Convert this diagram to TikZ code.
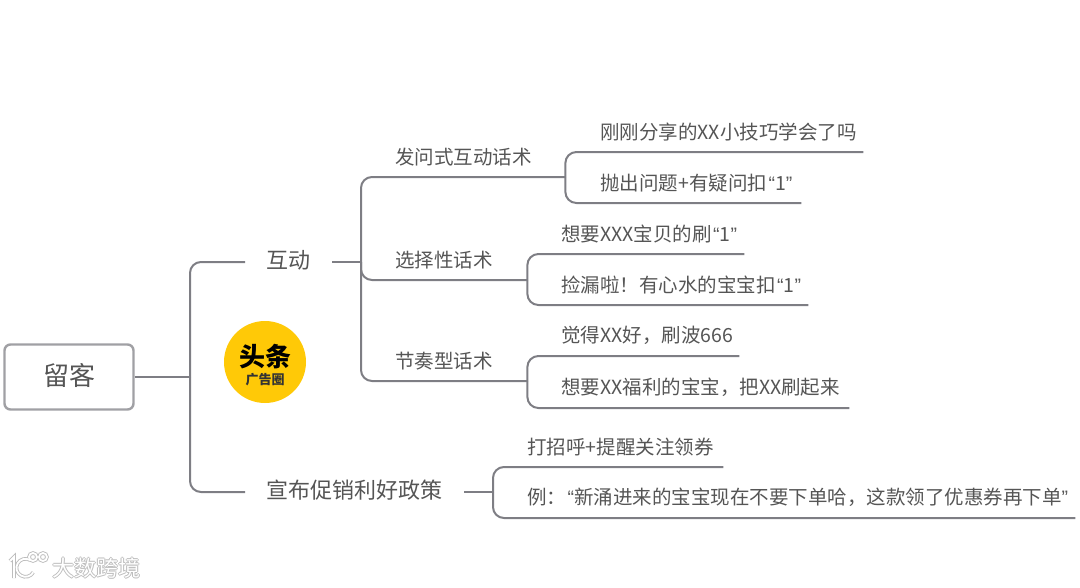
\documentclass[tikz,border=0pt]{standalone}
\usepackage{fontspec}
\setmainfont{Noto Sans CJK SC}
\newfontfamily\quotefont{Liberation Sans}
\newcommand{\qo}{\kern1.5pt{\quotefont “}}
\newcommand{\qc}{{\quotefont ”}\kern1.5pt}
\usetikzlibrary{positioning}
\definecolor{ink}{HTML}{555555}
\definecolor{wire}{HTML}{7E7E84}
\definecolor{rootline}{HTML}{A0A0A4}
\definecolor{badge}{HTML}{FFC907}
\definecolor{halo}{HTML}{BDBDBD}
\begin{document}
\begin{tikzpicture}[
  x=1pt,y=-1pt,
  font=\fontsize{19.5}{23}\selectfont,text=ink,
  link/.style={draw=wire,line width=2pt,rounded corners=11pt},
  rootbox/.style={draw=rootline,line width=2.4pt,rounded corners=6pt,minimum width=129pt,
                  minimum height=65pt,text height=21pt,text depth=5pt,
                  font=\fontsize{26}{30}\selectfont},
  topic/.style={inner xsep=21.5pt,inner ysep=2pt,anchor=west,text height=18pt,text depth=5.2pt,
                font=\fontsize{22}{26}\selectfont},
  leaf/.style={anchor=south west,inner xsep=0pt,inner ysep=11pt,text width=#1,align=left},
  markline/.style={line width=#1,fill=none},
  brandtext/.style={font=\fontsize{22}{24}\selectfont,inner sep=0pt,anchor=west}]

\useasboundingbox (0,0) rectangle (1080,587);

\node[rootbox] (root) at (69,377) {留客};
\coordinate (hubA) at (190,377);

\node[topic] (talk) at (245,262) {互动};
\node[topic] (sale) at (245,492) {宣布促销利好政策};
\coordinate (hubB) at (361,262);
\coordinate (hubC) at (493,492);

\node[leaf=170pt] (ask)  at (395,177) {发问式互动话术};
\node[leaf=132pt] (pick) at (395,280) {选择性话术};
\node[leaf=132pt] (beat) at (395,381) {节奏型话术};

\node[leaf=263pt] (ask1)  at (600,152) {刚刚分享的XX小技巧学会了吗};
\node[leaf=201pt] (ask2)  at (600,203) {抛出问题+有疑问扣\qo 1\qc};
\node[leaf=183pt] (pick1) at (561,254) {想要XXX宝贝的刷\qo 1\qc};
\node[leaf=247pt] (pick2) at (561,305) {捡漏啦！有心水的宝宝扣\qo 1\qc};
\node[leaf=178pt] (beat1) at (561,356) {觉得XX好，刷波666};
\node[leaf=288pt] (beat2) at (561,408) {想要XX福利的宝宝，把XX刷起来};
\node[leaf=196pt] (sale1) at (527,467) {打招呼+提醒关注领券};
\node[leaf=548pt] (sale2) at (527,518) {例：\qo 新涌进来的宝宝现在不要下单哈，这款领了优惠券再下单\qc};

\draw[link] (root) -- (hubA);
\draw[link] (hubA) |- (talk.west);
\draw[link] (hubA) |- (sale.west);
\draw[link] (talk.east) -- (hubB);
\draw[link] (hubB) |- (ask.south east);
\draw[link] (hubB) |- (pick.south east);
\draw[link] (hubB) |- (beat.south east);
\draw[link] (ask.south east) |- (ask1.south east);
\draw[link] (ask.south east) |- (ask2.south east);
\draw[link] (pick.south east) |- (pick1.south east);
\draw[link] (pick.south east) |- (pick2.south east);
\draw[link] (beat.south east) |- (beat1.south east);
\draw[link] (beat.south east) |- (beat2.south east);
\draw[link] (sale.east) -- (hubC);
\draw[link] (hubC) |- (sale1.south east);
\draw[link] (hubC) |- (sale2.south east);

\node[circle,fill=badge,minimum size=82pt,inner sep=0pt] (badge) at (265,362) {};
\node[font=\fontsize{26}{28}\selectfont\bfseries,text=black,inner sep=0pt] (badgetop) at (265,357) {头条};
\node[font=\fontsize{13}{14}\selectfont\bfseries,text=black!80,inner sep=0pt,below=4pt of badgetop] (badgesub) {广告圈};

\foreach \c/\w in {halo/3.6pt,white/1.8pt}{
  \draw[\c,markline=\w] (10,561) -- (14,557) -- (14,578);
  \draw[\c,markline=\w] (30,560) arc[start angle=-60,end angle=-330,radius=9];
  \draw[\c,markline=\w] (33,557) circle[radius=4];
  \draw[\c,markline=\w] (43,557) circle[radius=4];
}
\foreach \i/\dx/\dy in {a/-.8/0,b/.8/0,c/0/-.8,d/0/.8}
  \node[brandtext,text=halo] (brand\i) at (52+\dx,568+\dy) {大数跨境};
\node[brandtext,text=white] (brand) at (52,568) {大数跨境};
\end{tikzpicture}
\end{document}
